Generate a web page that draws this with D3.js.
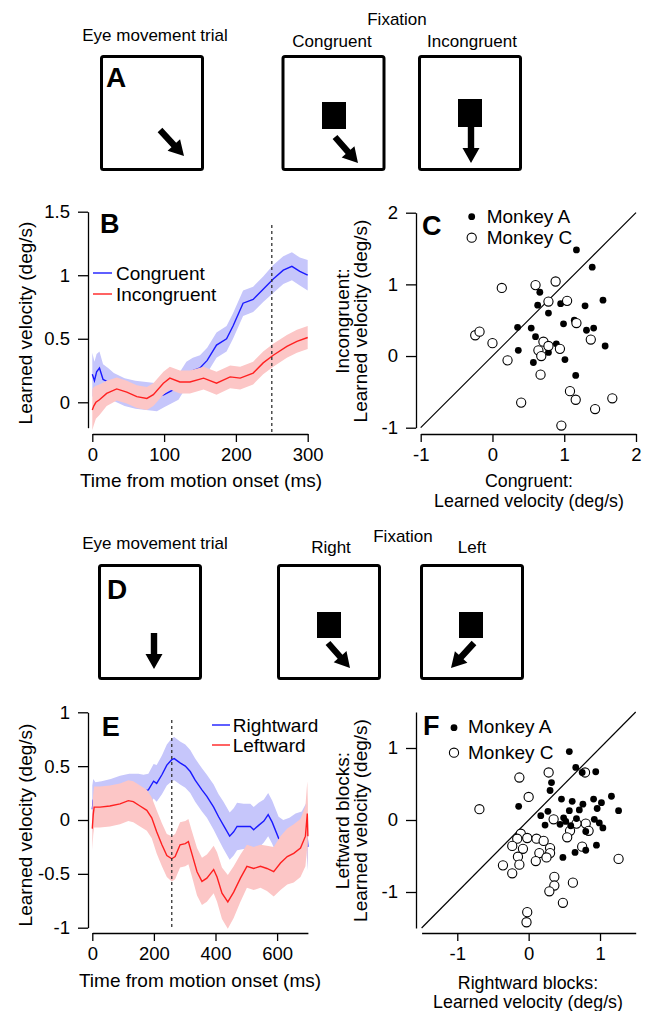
<!DOCTYPE html>
<html>
<head>
<meta charset="utf-8">
<script src="https://cdn.jsdelivr.net/npm/d3@7"></script>
<style>
  body { margin: 0; background: #fff; }
  svg text { font-family: "Liberation Sans", Arial, Helvetica, sans-serif; fill: #000; }
</style>
</head>
<body>
<svg id="fig" width="650" height="1011"></svg>
<script>
// ---- panel B: congruent / incongruent traces (mean +/- sem) ----
const congTime = [0, 3, 6, 10, 15, 22, 30, 45, 60, 75, 90, 100, 110, 120, 131, 140, 150, 160, 173, 187, 196, 210, 224, 238, 252, 266, 278, 289, 300];
const congMean = [0.22, 0.17, 0.24, 0.27, 0.18, 0.16, 0.12, 0.08, 0.06, 0.05, 0.04, 0.06, 0.09, 0.12, 0.22, 0.25, 0.27, 0.33, 0.45, 0.50, 0.60, 0.78, 0.81, 0.89, 0.97, 1.04, 1.07, 1.03, 1.00];
const congSem  = [0.17, 0.15, 0.14, 0.13, 0.12, 0.11, 0.11, 0.11, 0.11, 0.11, 0.11, 0.1, 0.1, 0.1, 0.1, 0.1, 0.1, 0.1, 0.1, 0.1, 0.1, 0.1, 0.1, 0.1, 0.11, 0.11, 0.11, 0.11, 0.12];

const incTime = [0, 2, 5, 10, 20, 34, 48, 62, 76, 85, 99, 108, 122, 136, 155, 173, 192, 206, 224, 238, 252, 271, 285, 300];
const incMean = [-0.06, -0.03, 0.0, 0.02, 0.07, 0.105, 0.08, 0.045, 0.03, 0.06, 0.15, 0.19, 0.16, 0.16, 0.19, 0.15, 0.20, 0.19, 0.23, 0.31, 0.37, 0.44, 0.48, 0.51];
const incSem  = [0.16, 0.15, 0.13, 0.12, 0.1, 0.09, 0.09, 0.09, 0.09, 0.09, 0.09, 0.09, 0.09, 0.09, 0.09, 0.09, 0.09, 0.09, 0.09, 0.09, 0.09, 0.09, 0.09, 0.09];

// ---- panel C: congruent vs incongruent, per experiment ----
const cMonkeyA_x = [1.17, 1.39, 0.66, 0.63, 0.95, 1.29, 1.54, 0.78, 0.35, 0.54, 0.99, 1.14, 1.31, 1.41, 0.60, 0.89, 1.57, 0.36, 0.78, 1.01, 0.57, 1.16];
const cMonkeyA_y = [1.48, 1.24, 0.89, 0.71, 0.73, 0.70, 0.78, 0.60, 0.40, 0.39, 0.45, 0.50, 0.36, 0.39, 0.27, 0.17, 0.14, 0.08, 0.05, -0.05, -0.09, -0.27];
const cMonkeyC_x = [0.13, 0.60, 0.88, 0.78, 1.04, 1.17, -0.24, -0.18, 0.00, 0.21, 0.71, 0.78, 0.64, 0.68, 0.94, 1.37, 0.67, 0.40, 1.08, 1.16, 1.43, 1.67, 0.96];
const cMonkeyC_y = [0.95, 0.99, 1.04, 0.76, 0.77, 0.46, 0.29, 0.34, 0.18, -0.06, 0.20, 0.14, 0.08, 0.00, 0.10, 0.23, -0.26, -0.65, -0.49, -0.61, -0.74, -0.59, -0.97];

// ---- panel E: rightward / leftward traces ----
const rightTime = [0, 3, 10, 30, 60, 90, 120, 150, 166, 182, 199, 209, 226, 242, 258, 266, 285, 302, 318, 334, 356, 372, 394, 410, 426, 446, 459, 470, 491, 513, 524, 540, 557, 571, 584, 605, 620, 640, 660, 680, 695, 700];
const rightMean = [0.10, 0.18, 0.17, 0.18, 0.20, 0.22, 0.24, 0.26, 0.27, 0.28, 0.36, 0.34, 0.42, 0.51, 0.56, 0.57, 0.53, 0.50, 0.45, 0.37, 0.28, 0.22, 0.12, 0.03, -0.05, -0.15, -0.11, -0.06, -0.06, -0.06, -0.09, -0.05, -0.01, 0.05, -0.02, -0.17, -0.21, -0.19, -0.16, -0.14, -0.06, -0.25];
const rightSem  = [0.22, 0.2, 0.18, 0.18, 0.18, 0.19, 0.19, 0.17, 0.15, 0.15, 0.16, 0.17, 0.18, 0.19, 0.2, 0.2, 0.2, 0.2, 0.2, 0.2, 0.2, 0.2, 0.21, 0.21, 0.22, 0.22, 0.22, 0.22, 0.21, 0.21, 0.21, 0.21, 0.2, 0.2, 0.2, 0.2, 0.21, 0.21, 0.22, 0.22, 0.22, 0.22];

const leftTime = [0, 3, 6, 25, 57, 90, 117, 133, 155, 177, 193, 209, 226, 242, 258, 269, 285, 302, 312, 323, 340, 356, 372, 383, 394, 405, 421, 440, 459, 481, 502, 524, 546, 567, 589, 611, 633, 654, 676, 692, 698, 700];
const leftMean = [-0.08, 0.05, 0.12, 0.12, 0.13, 0.15, 0.18, 0.17, 0.13, 0.09, 0.02, -0.11, -0.23, -0.33, -0.36, -0.34, -0.23, -0.22, -0.20, -0.31, -0.48, -0.57, -0.54, -0.50, -0.46, -0.53, -0.68, -0.76, -0.67, -0.54, -0.43, -0.45, -0.43, -0.45, -0.48, -0.40, -0.34, -0.31, -0.26, -0.15, 0.06, -0.15];
const leftSem  = [0.2, 0.19, 0.19, 0.19, 0.19, 0.19, 0.19, 0.19, 0.19, 0.19, 0.19, 0.2, 0.2, 0.2, 0.21, 0.21, 0.21, 0.21, 0.21, 0.21, 0.22, 0.22, 0.22, 0.22, 0.22, 0.23, 0.24, 0.25, 0.24, 0.22, 0.2, 0.2, 0.2, 0.21, 0.23, 0.25, 0.26, 0.27, 0.27, 0.28, 0.3, 0.3];

// ---- panel F: rightward vs leftward blocks ----
const fMonkeyA_x = [0.57, 0.66, 0.75, 0.94, 0.32, 0.30, -0.14, 0.46, 0.61, 0.27, 0.17, 0.76, 0.91, 1.16, 1.02, 1.26, 0.96, 0.71, 0.57, 0.49, 0.67, 0.52, 0.44, 0.23, 0.59, 0.92, 0.99, 1.04, 0.80, 0.95, 0.80, 0.65, 0.48];
const fMonkeyA_y = [0.95, 0.73, 0.66, 0.67, 0.52, 0.41, 0.19, 0.29, 0.26, 0.12, 0.06, 0.22, 0.29, 0.33, 0.24, 0.13, 0.16, 0.14, 0.13, 0.03, 0.02, -0.02, -0.06, -0.07, -0.08, 0.01, -0.04, -0.11, -0.16, -0.35, -0.42, -0.45, -0.52];
const fMonkeyC_x = [0.28, -0.13, 0.00, -0.69, 0.35, 0.79, 0.80, 0.58, 0.67, 0.84, 0.54, 0.75, -0.11, -0.16, -0.02, -0.23, -0.08, 0.11, 0.21, 0.30, 0.15, 0.30, 0.25, 0.10, -0.15, -0.13, -0.36, -0.23, 0.36, 0.36, 0.29, 0.62, 0.48, -0.02, -0.03, 1.26];
const fMonkeyC_y = [0.66, 0.59, 0.32, 0.15, 0.01, 0.66, -0.05, -0.15, -0.05, -0.15, -0.24, -0.37, -0.19, -0.26, -0.25, -0.36, -0.40, -0.26, -0.29, -0.39, -0.46, -0.46, -0.52, -0.57, -0.51, -0.62, -0.63, -0.74, -0.79, -0.91, -0.99, -0.87, -1.15, -1.28, -1.42, -0.54];

// tick values
const bTicksX = [0, 100, 200, 300];
const bTicksY = [0, 0.5, 1, 1.5];
const cTicks = [-1, 0, 1, 2];
const eTicksX = [0, 200, 400, 600];
const eTicksY = [-1, -0.5, 0, 0.5, 1];
const fTicks = [-1, 0, 1];

const BLUE = '#1a1aff', BLUE_BAND = '#c6c6fb';
const RED = '#ff2020', RED_BAND = '#fcc6c6';
const FONT = 19, TICK_FONT = 18.5;

const svg = d3.select('#fig');

function txt(x, y, s, size, anchor, weight) {
  return svg.append('text').attr('x', x).attr('y', y)
    .attr('font-size', size).attr('text-anchor', anchor || 'start')
    .attr('font-weight', weight || 'normal').text(s);
}
function vtxt(x, y, lines, gap) {
  const t = svg.append('text').attr('transform', `translate(${x},${y}) rotate(-90)`)
    .attr('font-size', FONT).attr('text-anchor', 'middle');
  lines.forEach((s, i) => t.append('tspan').attr('x', 0).attr('dy', i ? gap : 0).text(s));
  return t;
}

function drawAxes(x, y, xTicks, yTicks, xAxisY, yAxisX) {
  const fmt = d => String(d);
  const gx = svg.append('g').attr('transform', `translate(0,${xAxisY})`)
    .call(d3.axisBottom(x).tickValues(xTicks).tickSize(8).tickSizeOuter(0).tickPadding(6).tickFormat(fmt));
  const gy = svg.append('g').attr('transform', `translate(${yAxisX},0)`)
    .call(d3.axisLeft(y).tickValues(yTicks).tickSize(10).tickSizeOuter(0).tickPadding(8).tickFormat(fmt));
  [gx, gy].forEach(g => {
    g.attr('font-size', TICK_FONT).attr('font-family', null);
    g.selectAll('path,line').attr('stroke', '#000').attr('stroke-width', 1.3);
  });
}

function trace(x, y, time, mean, sem, lineColor, bandColor) {
  const rows = time.map((t, i) => ({ t, m: mean[i], s: sem[i] }));
  svg.append('path').datum(rows).attr('fill', bandColor)
    .attr('d', d3.area().x(d => x(d.t)).y0(d => y(d.m - d.s)).y1(d => y(d.m + d.s)));
  svg.append('path').datum(rows).attr('fill', 'none').attr('stroke', lineColor).attr('stroke-width', 1.4)
    .attr('d', d3.line().x(d => x(d.t)).y(d => y(d.m)));
}

function scatter(x, y, xs, ys, filled) {
  svg.append('g').selectAll('circle').data(xs.map((v, i) => [v, ys[i]])).join('circle')
    .attr('cx', d => x(d[0])).attr('cy', d => y(d[1]))
    .attr('r', filled ? 3.4 : 4.6)
    .attr('fill', filled ? '#000' : '#fff')
    .attr('stroke', '#000').attr('stroke-width', filled ? 0 : 1.1);
}

// ---------- schematic panels A and D ----------
function box(x, y, w, h) {
  svg.append('rect').attr('x', x).attr('y', y).attr('width', w).attr('height', h)
    .attr('rx', 2).attr('fill', 'none').attr('stroke', '#000').attr('stroke-width', 3);
}
function square(x, y, w, h) {
  svg.append('rect').attr('x', x).attr('y', y).attr('width', w).attr('height', h).attr('fill', '#000');
}
function arrow(x1, y1, x2, y2) {
  const L = Math.hypot(x2 - x1, y2 - y1), ux = (x2 - x1) / L, uy = (y2 - y1) / L;
  const nx = -uy, ny = ux, sw = 3.2, hw = 8.5, hl = 15;
  const bx = x2 - ux * hl, by = y2 - uy * hl;
  const pts = [
    [x1 + nx * sw, y1 + ny * sw], [bx + nx * sw, by + ny * sw], [bx + nx * hw, by + ny * hw],
    [x2, y2], [bx - nx * hw, by - ny * hw], [bx - nx * sw, by - ny * sw], [x1 - nx * sw, y1 - ny * sw]
  ];
  svg.append('polygon').attr('points', pts.map(p => p.join(',')).join(' ')).attr('fill', '#000');
}

// row A
txt(155, 41, 'Eye movement trial', 17, 'middle');
txt(397, 25, 'Fixation', 17, 'middle');
txt(332, 47, 'Congruent', 17, 'middle');
txt(472, 47, 'Incongruent', 17, 'middle');
box(101.5, 56.5, 101, 113); box(283, 56.5, 101, 113); box(419.5, 56.5, 101, 113);
square(322, 102, 24, 27); square(458, 99, 24, 28);
arrow(160, 130, 184, 156); arrow(335, 137, 358, 163); arrow(471, 127, 471, 163);
txt(106, 87, 'A', 28, 'start', 'bold');

// row D
txt(155, 549, 'Eye movement trial', 17, 'middle');
txt(403, 542, 'Fixation', 17, 'middle');
txt(331, 553, 'Right', 17, 'middle');
txt(472, 553, 'Left', 17, 'middle');
box(99.5, 565.5, 101, 113); box(278.5, 565.5, 101, 113); box(421.5, 565.5, 101, 113);
square(317, 612, 24, 26); square(459, 612, 24, 26);
arrow(154, 633, 154, 669); arrow(328, 643, 350, 668); arrow(474, 643, 451, 668);
txt(107, 599, 'D', 28, 'start', 'bold');

// ---------- panel B ----------
{
  const x = d3.scaleLinear([0, 300], [92.3, 307.7]);
  const y = d3.scaleLinear([-0.2, 1.5], [427.7, 211.7]);
  trace(x, y, congTime, congMean, congSem, BLUE, BLUE_BAND);
  trace(x, y, incTime, incMean, incSem, RED, RED_BAND);
  svg.append('line').attr('x1', x(250)).attr('x2', x(250)).attr('y1', 225).attr('y2', 434)
    .attr('stroke', '#333').attr('stroke-width', 1.3).attr('stroke-dasharray', '3,3');
  drawAxes(x, y, bTicksX, bTicksY, 434, 88);
  txt(100, 233, 'B', 27, 'start', 'bold');
  svg.append('line').attr('x1', 93).attr('x2', 112).attr('y1', 273).attr('y2', 273).attr('stroke', BLUE).attr('stroke-width', 1.4);
  txt(116, 280, 'Congruent', FONT);
  svg.append('line').attr('x1', 93).attr('x2', 112).attr('y1', 294).attr('y2', 294).attr('stroke', RED).attr('stroke-width', 1.4);
  txt(116, 301, 'Incongruent', FONT);
  txt(201, 487, 'Time from motion onset (ms)', FONT, 'middle');
  vtxt(32, 323, ['Learned velocity (deg/s)'], 0);
}

// ---------- panel C ----------
{
  const x = d3.scaleLinear([-1, 2], [420.7, 636]);
  const y = d3.scaleLinear([-1, 2], [427.7, 212.7]);
  svg.append('line').attr('x1', x(-1)).attr('y1', y(-1)).attr('x2', x(2)).attr('y2', y(2))
    .attr('stroke', '#000').attr('stroke-width', 1.2);
  scatter(x, y, cMonkeyA_x, cMonkeyA_y, true);
  scatter(x, y, cMonkeyC_x, cMonkeyC_y, false);
  drawAxes(x, y, cTicks, cTicks, 434, 416);
  txt(422, 235, 'C', 27, 'start', 'bold');
  svg.append('circle').attr('cx', 471.7).attr('cy', 216.7).attr('r', 3.4).attr('fill', '#000');
  txt(486.7, 223, 'Monkey A', FONT);
  svg.append('circle').attr('cx', 471.7).attr('cy', 237.7).attr('r', 4.6).attr('fill', '#fff').attr('stroke', '#000').attr('stroke-width', 1.1);
  txt(486.7, 244, 'Monkey C', FONT);
  txt(529, 486.5, 'Congruent:', 17.8, 'middle');
  txt(529, 506.5, 'Learned velocity (deg/s)', 17.8, 'middle');
  vtxt(349, 321, ['Incongruent:', 'Learned velocity (deg/s)'], 18);
}

// ---------- panel E ----------
{
  const x = d3.scaleLinear([0, 700], [92.3, 307.9]);
  const y = d3.scaleLinear([-1, 1], [927.7, 712.3]);
  trace(x, y, rightTime, rightMean, rightSem, BLUE, BLUE_BAND);
  trace(x, y, leftTime, leftMean, leftSem, RED, RED_BAND);
  svg.append('line').attr('x1', x(258)).attr('x2', x(258)).attr('y1', 720).attr('y2', 928)
    .attr('stroke', '#333').attr('stroke-width', 1.3).attr('stroke-dasharray', '3,3');
  drawAxes(x, y, eTicksX, eTicksY, 933, 88);
  txt(101.7, 736, 'E', 27, 'start', 'bold');
  svg.append('line').attr('x1', 212).attr('x2', 230).attr('y1', 725).attr('y2', 725).attr('stroke', BLUE).attr('stroke-width', 1.4);
  txt(232.7, 732, 'Rightward', FONT);
  svg.append('line').attr('x1', 212).attr('x2', 230).attr('y1', 745).attr('y2', 745).attr('stroke', RED).attr('stroke-width', 1.4);
  txt(232.7, 752, 'Leftward', FONT);
  txt(200, 987, 'Time from motion onset (ms)', FONT, 'middle');
  vtxt(32, 825, ['Learned velocity (deg/s)'], 0);
}

// ---------- panel F ----------
{
  const x = d3.scaleLinear([-1.5, 1.5], [421.6, 635.7]);
  const y = d3.scaleLinear([-1.5, 1.5], [928, 712]);
  svg.append('line').attr('x1', x(-1.5)).attr('y1', y(-1.5)).attr('x2', x(1.5)).attr('y2', y(1.5))
    .attr('stroke', '#000').attr('stroke-width', 1.2);
  scatter(x, y, fMonkeyC_x, fMonkeyC_y, false);
  scatter(x, y, fMonkeyA_x, fMonkeyA_y, true);
  drawAxes(x, y, fTicks, fTicks, 933, 416);
  txt(423, 735, 'F', 27, 'start', 'bold');
  svg.append('circle').attr('cx', 454).attr('cy', 727.7).attr('r', 3.4).attr('fill', '#000');
  txt(468, 733, 'Monkey A', FONT);
  svg.append('circle').attr('cx', 454).attr('cy', 752.7).attr('r', 4.6).attr('fill', '#fff').attr('stroke', '#000').attr('stroke-width', 1.1);
  txt(468, 758.5, 'Monkey C', FONT);
  txt(528, 988.5, 'Rightward blocks:', 17.8, 'middle');
  txt(528, 1008, 'Learned velocity (deg/s)', 17.8, 'middle');
  vtxt(349, 820.5, ['Leftward blocks:', 'Learned velocity (deg/s)'], 18);
}
</script>
</body>
</html>
